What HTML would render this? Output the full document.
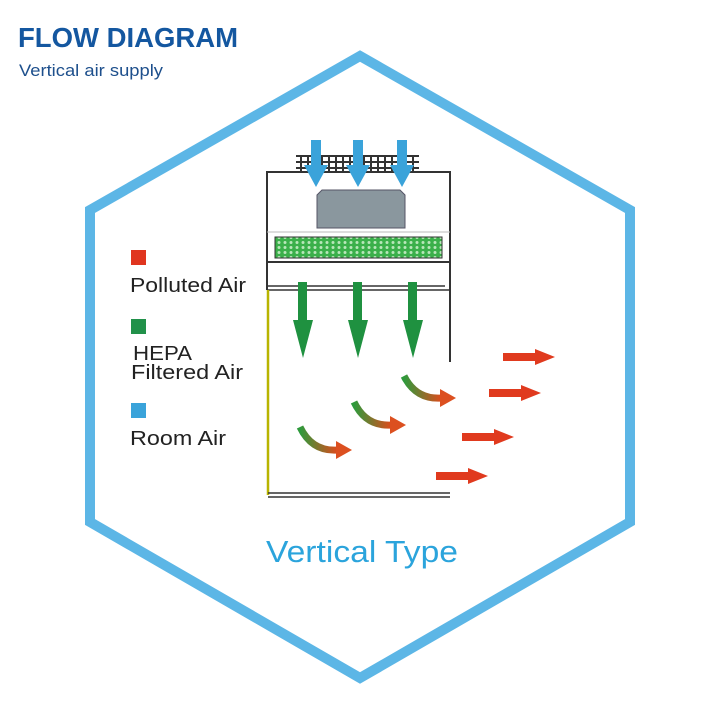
<!DOCTYPE html>
<html><head><meta charset="utf-8"><style>
body{margin:0;background:#fff;width:720px;height:720px;overflow:hidden}
</style></head><body>
<svg width="720" height="720" xmlns="http://www.w3.org/2000/svg" font-family="Liberation Sans, sans-serif">
<defs>
<linearGradient id="g" x1="0" y1="0" x2="1" y2="0"><stop offset="0" stop-color="#2e9a3c"/><stop offset="1" stop-color="#e04a1c"/></linearGradient>
<pattern id="hp" width="6" height="5" patternUnits="userSpaceOnUse"><rect width="6" height="5" fill="#3bb04a"/><circle cx="3" cy="2.5" r="1.5" fill="#b9e6b9"/></pattern>
<pattern id="gr" width="7" height="6" patternUnits="userSpaceOnUse"><rect width="7" height="6" fill="#333"/><rect x="1" y="1" width="5" height="4" fill="#fff"/></pattern>
</defs>
<text x="18" y="47" font-size="28" font-weight="bold" fill="#1457a0" textLength="220" lengthAdjust="spacingAndGlyphs">FLOW DIAGRAM</text>
<text x="19" y="76" font-size="17" fill="#1d4f8c" textLength="144" lengthAdjust="spacingAndGlyphs">Vertical air supply</text>
<polygon points="360,56 630,210 630,522 360,678 90,522 90,210" fill="none" stroke="#5cb6e6" stroke-width="10"/>
<rect x="296" y="155" width="123" height="17" fill="url(#gr)"/>
<path d="M267,290 V172 H450 V362" fill="none" stroke="#333" stroke-width="2"/>
<path d="M317,195 L322,190 H400 L405,195 V228 H317 Z" fill="#8a979e" stroke="#556" stroke-width="1"/>
<line x1="267" y1="232" x2="450" y2="232" stroke="#bbb"/>
<rect x="275" y="237" width="167" height="21" fill="url(#hp)" stroke="#333"/>
<line x1="267" y1="262" x2="450" y2="262" stroke="#333" stroke-width="2"/>
<line x1="267" y1="286" x2="445" y2="286" stroke="#333" stroke-width="1.5"/>
<line x1="267" y1="290" x2="450" y2="290" stroke="#333" stroke-width="1.5"/>
<line x1="268" y1="290" x2="268" y2="495" stroke="#b8b400" stroke-width="2.5"/>
<line x1="268" y1="493" x2="450" y2="493" stroke="#333" stroke-width="1.5"/>
<line x1="268" y1="497" x2="450" y2="497" stroke="#333" stroke-width="1.5"/>
<g fill="#3aa3da">
<polygon points="311,140 321,140 321,165 328,165 316,187 304,165 311,165"/>
<polygon points="353,140 363,140 363,165 370,165 358,187 346,165 353,165"/>
<polygon points="397,140 407,140 407,165 414,165 402,187 390,165 397,165"/>
</g>
<g fill="#1f9140">
<polygon points="298,282 307,282 307,320 313,320 303,358 293,320 298,320"/>
<polygon points="353,282 362,282 362,320 368,320 358,358 348,320 353,320"/>
<polygon points="408,282 417,282 417,320 423,320 413,358 403,320 408,320"/>
</g>
<g fill="none" stroke="url(#g)" stroke-width="7">
<path d="M300,427 Q312,452 338,450"/>
<path d="M354,402 Q366,427 392,425"/>
<path d="M404,376 Q416,400 442,398"/>
</g>
<g fill="#dc5020">
<polygon points="336,441 352,450 336,459"/>
<polygon points="390,416 406,425 390,434"/>
<polygon points="440,389 456,398 440,407"/>
</g>
<g fill="#e03a1e">
<polygon points="503,353 535,353 535,349 555,357 535,365 535,361 503,361"/>
<polygon points="489,389 521,389 521,385 541,393 521,401 521,397 489,397"/>
<polygon points="462,433 494,433 494,429 514,437 494,445 494,441 462,441"/>
<polygon points="436,472 468,472 468,468 488,476 468,484 468,480 436,480"/>
</g>
<rect x="131" y="250" width="15" height="15" fill="#e0351f"/>
<text x="130" y="292" font-size="20" fill="#222" textLength="116" lengthAdjust="spacingAndGlyphs">Polluted Air</text>
<rect x="131" y="319" width="15" height="15" fill="#21914a"/>
<text x="133" y="360" font-size="20" fill="#222" textLength="59" lengthAdjust="spacingAndGlyphs">HEPA</text>
<text x="131" y="379" font-size="20" fill="#222" textLength="112" lengthAdjust="spacingAndGlyphs">Filtered Air</text>
<rect x="131" y="403" width="15" height="15" fill="#3aa3da"/>
<text x="130" y="445" font-size="20" fill="#222" textLength="96" lengthAdjust="spacingAndGlyphs">Room Air</text>
<text x="266" y="562" font-size="31" fill="#2ba4dc" textLength="192" lengthAdjust="spacingAndGlyphs">Vertical Type</text>
</svg>
</body></html>
